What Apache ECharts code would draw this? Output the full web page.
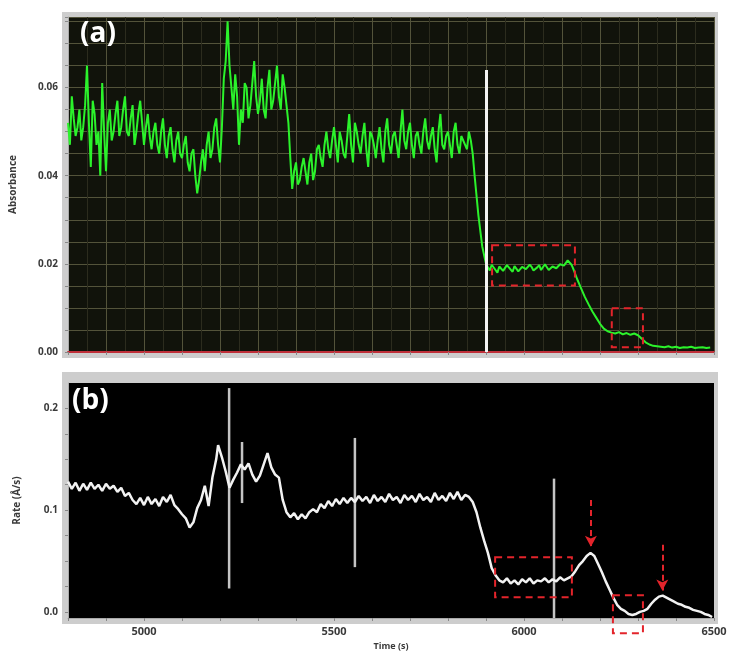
<!DOCTYPE html>
<html>
<head>
<meta charset="utf-8">
<script src="https://cdn.jsdelivr.net/npm/echarts@6/dist/echarts.min.js"></script>
<style>html,body{margin:0;padding:0;background:#fff}#c{width:730px;height:652px}</style>
</head>
<body>
<div id="c"></div>
<script>
// Panel (a): absorbance vs time [time (s), absorbance]
const absorbance = [
[4800,0.052],[4810,0.058],[4820,0.049],[4830,0.055],[4840,0.051],[4850,0.065],[4860,0.042],[4870,0.054],[4880,0.050],[4890,0.061],
[4900,0.041],[4910,0.055],[4920,0.050],[4930,0.057],[4940,0.051],[4950,0.058],[4960,0.049],[4970,0.056],[4980,0.050],[4990,0.057],
[5000,0.047],[5010,0.054],[5020,0.046],[5030,0.052],[5040,0.045],[5050,0.053],[5060,0.044],[5070,0.051],[5080,0.043],[5090,0.050],
[5100,0.044],[5110,0.049],[5120,0.041],[5130,0.046],[5140,0.036],[5150,0.043],[5160,0.041],[5170,0.050],[5180,0.046],[5190,0.053],
[5200,0.043],[5210,0.062],[5220,0.075],[5230,0.060],[5240,0.063],[5250,0.047],[5260,0.052],[5270,0.060],[5280,0.056],[5290,0.066],
[5300,0.054],[5310,0.062],[5320,0.053],[5330,0.064],[5340,0.057],[5350,0.065],[5360,0.055],[5370,0.060],[5380,0.052],[5390,0.037],
[5400,0.043],[5410,0.039],[5420,0.044],[5430,0.038],[5440,0.045],[5450,0.041],[5460,0.047],[5470,0.042],[5480,0.050],[5490,0.044],
[5500,0.051],[5510,0.043],[5520,0.048],[5530,0.044],[5540,0.054],[5550,0.043],[5560,0.050],[5570,0.045],[5580,0.052],[5590,0.042],
[5600,0.049],[5610,0.044],[5620,0.051],[5630,0.043],[5640,0.053],[5650,0.045],[5660,0.050],[5670,0.044],[5680,0.055],[5690,0.046],
[5700,0.052],[5710,0.044],[5720,0.050],[5730,0.045],[5740,0.053],[5750,0.046],[5760,0.051],[5770,0.043],[5780,0.054],[5790,0.046],
[5800,0.050],[5810,0.044],[5820,0.052],[5830,0.045],[5840,0.049],[5850,0.046],[5860,0.048],[5870,0.040],[5880,0.031],[5890,0.024],
[5900,0.020],[5910,0.0185],[5920,0.0195],[5930,0.018],[5940,0.019],[5950,0.0188],[5960,0.0195],[5970,0.0182],[5980,0.0192],[5990,0.0186],
[6000,0.0196],[6010,0.0184],[6020,0.0193],[6030,0.0187],[6040,0.0197],[6050,0.0185],[6060,0.0195],[6070,0.0189],[6080,0.0198],[6090,0.0187],
[6100,0.0203],[6110,0.0192],[6120,0.0205],[6130,0.0188],[6140,0.0165],[6150,0.0145],[6160,0.0125],[6170,0.0108],[6180,0.0092],[6190,0.0078],
[6200,0.0064],[6210,0.0053],[6220,0.0047],[6230,0.0044],[6240,0.0042],[6250,0.0045],[6260,0.0040],[6270,0.0043],[6280,0.0039],[6290,0.0042],
[6300,0.0038],[6310,0.0030],[6320,0.0022],[6330,0.0017],[6340,0.0014],[6350,0.0013],[6360,0.0012],[6370,0.0011],[6380,0.0013],[6390,0.0010],
[6400,0.0012],[6410,0.0009],[6420,0.0011],[6430,0.0010],[6440,0.0012],[6450,0.0009],[6460,0.0010],[6470,0.0011],[6480,0.0009],[6490,0.0010]
];
// Intermediate absorbance readings (between the 10 s samples above)
const absorbanceMid = [
[4805,0.047],[4815,0.053],[4825,0.051],[4835,0.048],[4845,0.056],[4855,0.052],[4865,0.057],[4875,0.047],[4885,0.040],[4895,0.050],
[4905,0.052],[4915,0.048],[4925,0.054],[4935,0.049],[4945,0.055],[4955,0.050],[4965,0.053],[4975,0.047],[4985,0.054],[4995,0.052],
[5005,0.051],[5015,0.049],[5025,0.050],[5035,0.047],[5045,0.050],[5055,0.047],[5065,0.049],[5075,0.046],[5085,0.048],[5095,0.045],
[5105,0.047],[5115,0.043],[5125,0.045],[5135,0.040],[5145,0.039],[5155,0.046],[5165,0.047],[5175,0.044],[5185,0.051],[5195,0.047],
[5205,0.051],[5215,0.066],[5225,0.065],[5235,0.055],[5245,0.058],[5255,0.055],[5265,0.061],[5275,0.053],[5285,0.061],[5295,0.058],
[5305,0.057],[5315,0.055],[5325,0.060],[5335,0.055],[5345,0.061],[5355,0.058],[5365,0.063],[5375,0.056],[5385,0.044],[5395,0.041],
[5405,0.038],[5415,0.042],[5425,0.041],[5435,0.043],[5445,0.039],[5455,0.046],[5465,0.044],[5475,0.047],[5485,0.046],[5495,0.048],
[5505,0.047],[5515,0.050],[5525,0.045],[5535,0.049],[5545,0.047],[5555,0.052],[5565,0.047],[5575,0.049],[5585,0.046],[5595,0.050],
[5605,0.047],[5615,0.048],[5625,0.046],[5635,0.050],[5645,0.047],[5655,0.049],[5665,0.047],[5675,0.050],[5685,0.048],[5695,0.050],
[5705,0.047],[5715,0.049],[5725,0.047],[5735,0.050],[5745,0.048],[5755,0.049],[5765,0.046],[5775,0.050],[5785,0.047],[5795,0.049],
[5805,0.047],[5815,0.050],[5825,0.047],[5835,0.049],[5845,0.047],[5855,0.050],[5865,0.045],
[5905,0.0192],[5915,0.0198],[5925,0.0186],[5935,0.0194],[5945,0.0184],[5955,0.0197],[5965,0.0187],[5975,0.0195],[5985,0.0183],[5995,0.0193],
[6005,0.0188],[6015,0.0198],[6025,0.0185],[6035,0.0192],[6045,0.0186],[6055,0.0199],[6065,0.0186],[6075,0.0194],[6085,0.0190],[6095,0.0199],
[6105,0.0196],[6115,0.0208],[6125,0.0198]
];

// Panel (b): rate vs time [time (s), rate (Å/s)]
const rate = [
[4800,0.128],[4810,0.121],[4820,0.127],[4830,0.119],[4840,0.126],[4850,0.120],[4860,0.127],[4870,0.121],[4880,0.125],[4890,0.119],
[4900,0.126],[4910,0.121],[4920,0.124],[4930,0.118],[4940,0.122],[4950,0.114],[4960,0.117],[4970,0.110],[4980,0.106],[4990,0.112],
[5000,0.105],[5010,0.113],[5020,0.106],[5030,0.111],[5040,0.104],[5050,0.113],[5060,0.108],[5070,0.115],[5080,0.105],[5090,0.101],
[5100,0.096],[5110,0.092],[5120,0.083],[5130,0.088],[5140,0.102],[5150,0.110],[5160,0.124],[5170,0.104],[5180,0.132],[5190,0.150],
[5195,0.164],[5205,0.152],[5215,0.138],[5225,0.122],[5235,0.130],[5245,0.137],[5255,0.145],[5265,0.140],[5275,0.146],[5285,0.135],
[5295,0.128],[5305,0.134],[5315,0.145],[5325,0.156],[5335,0.142],[5345,0.135],[5355,0.132],[5365,0.110],[5375,0.098],[5385,0.093],
[5395,0.097],[5405,0.091],[5415,0.096],[5425,0.092],[5435,0.098],[5445,0.101],[5455,0.098],[5465,0.106],[5475,0.102],[5485,0.109],
[5495,0.104],[5505,0.111],[5515,0.106],[5525,0.112],[5535,0.107],[5545,0.112],[5555,0.108],[5565,0.114],[5575,0.109],[5585,0.113],
[5595,0.107],[5605,0.115],[5615,0.109],[5625,0.113],[5635,0.108],[5645,0.116],[5655,0.110],[5665,0.113],[5675,0.107],[5685,0.115],
[5695,0.110],[5705,0.114],[5715,0.108],[5725,0.116],[5735,0.110],[5745,0.113],[5755,0.108],[5765,0.117],[5775,0.110],[5785,0.114],
[5795,0.109],[5805,0.117],[5815,0.111],[5825,0.118],[5835,0.110],[5845,0.115],[5855,0.113],[5865,0.108],[5875,0.098],[5885,0.083],
[5895,0.070],[5905,0.058],[5915,0.043],[5925,0.036],[5935,0.031],[5945,0.029],[5955,0.033],[5965,0.028],[5975,0.031],[5985,0.027],
[5995,0.032],[6005,0.029],[6015,0.033],[6025,0.028],[6035,0.031],[6045,0.030],[6055,0.033],[6065,0.029],[6075,0.032],[6085,0.030],
[6095,0.034],[6105,0.031],[6115,0.033],[6125,0.035],[6135,0.040],[6145,0.046],[6155,0.050],[6165,0.055],[6175,0.058],[6185,0.055],
[6195,0.047],[6205,0.039],[6215,0.030],[6225,0.022],[6235,0.014],[6245,0.007],[6255,0.003],[6265,0.001],[6275,-0.002],[6285,-0.003],
[6295,-0.002],[6305,0.000],[6315,0.001],[6325,0.003],[6335,0.008],[6345,0.012],[6355,0.015],[6365,0.016],[6375,0.014],[6385,0.012],
[6395,0.010],[6405,0.008],[6415,0.007],[6425,0.005],[6435,0.004],[6445,0.002],[6455,0.001],[6465,0.000],[6475,-0.002],[6485,-0.003],[6495,-0.005]
];

// Spikes in the rate trace: time, low, high
const spikeTime = [5224, 5258, 5555, 6079];
const spikeLow  = [0.023, 0.107, 0.044, -0.006];
const spikeHigh = [0.220, 0.167, 0.171, 0.131];

// White marker line in panel (a)
const markerTime = 5900;
const markerTop = 0.064;

// Red dashed boxes: [t1, v1, t2, v2]
const boxesA = [[5916, 0.0242, 6134, 0.0151], [6231, 0.0099, 6313, 0.0011]];
const boxesB = [[5924, 0.0538, 6126, 0.0145], [6234, 0.0163, 6313, -0.021]];

// Red dashed arrows in panel (b): [t, from, to]
const arrowsB = [[6176, 0.110, 0.064], [6364, 0.066, 0.021]];

// Axis ticks / labels
const xMin = 4800, xMax = 6500;
const xLabels = [5000, 5500, 6000, 6500];
const absLabels = [0, 0.02, 0.04, 0.06];
const rateLabels = [0, 0.1, 0.2];
const rateTicks = [0, 0.025, 0.05, 0.075, 0.1, 0.125, 0.15, 0.175, 0.2];

const absData = absorbance.concat(absorbanceMid).sort((a, b) => a[0] - b[0]);

const chart = echarts.init(document.getElementById('c'), null, {renderer: 'canvas'});
const labelStyle = {color: '#3a3a3a', fontSize: 10, fontWeight: 'bold', fontFamily: 'Open Sans'};

function boxRenderer(params, api) {
  const p1 = api.coord([api.value(0), api.value(1)]);
  const p2 = api.coord([api.value(2), api.value(3)]);
  return {
    type: 'rect',
    shape: {x: p1[0], y: p1[1], width: p2[0] - p1[0], height: p2[1] - p1[1]},
    style: {fill: 'none', stroke: '#e3242b', lineWidth: 2, lineDash: [7, 5]}
  };
}
function spikeRenderer(params, api) {
  const p1 = api.coord([api.value(0), api.value(1)]);
  const p2 = api.coord([api.value(0), api.value(2)]);
  return {
    type: 'line',
    shape: {x1: p1[0], y1: p1[1], x2: p2[0], y2: p2[1]},
    style: {stroke: '#c4c4c4', lineWidth: 2.5}
  };
}

const option = {
  animation: false,
  backgroundColor: '#ffffff',
  graphic: [
    {type: 'rect', z: -10, shape: {x: 62, y: 12, width: 656, height: 346}, style: {fill: '#cdcdcd'}},
    {type: 'rect', z: -10, shape: {x: 62, y: 372, width: 656, height: 252}, style: {fill: '#cdcdcd'}},
    {type: 'text', z: 100, left: 80, top: 20, style: {text: '(a)', fill: '#ffffff', font: 'bold 28px "Open Sans"'}},
    {type: 'text', z: 100, left: 72, top: 387, style: {text: '(b)', fill: '#ffffff', font: 'bold 28px "Open Sans"'}}
  ],
  grid: [
    {left: 68, right: 16, top: 17, height: 335, show: true, backgroundColor: '#11130b', borderWidth: 0},
    {left: 68, right: 16, top: 383, height: 235, show: true, backgroundColor: '#000000', borderWidth: 0}
  ],
  xAxis: [
    {
      type: 'value', gridIndex: 0, min: xMin, max: xMax, interval: 100,
      axisLine: {show: true, onZero: false, lineStyle: {color: '#c0303a', width: 2}},
      axisTick: {show: true, length: 3, lineStyle: {color: '#888'}},
      axisLabel: {show: false},
      splitLine: {show: true, lineStyle: {color: '#53533a', width: 1}},
      minorTick: {show: false, splitNumber: 2},
      minorSplitLine: {show: true, lineStyle: {color: '#2c2c1e', width: 1}}
    },
    {
      type: 'value', gridIndex: 1, min: xMin, max: xMax, interval: 100,
      name: 'Time (s)', nameLocation: 'middle', nameGap: 24,
      nameTextStyle: {color: '#3a3a3a', fontSize: 9, fontWeight: 'bold', fontFamily: 'Open Sans'},
      axisLine: {show: true, onZero: false, lineStyle: {color: '#aaaaaa', width: 1}},
      axisTick: {show: true, length: 3, lineStyle: {color: '#888'}},
      axisLabel: {margin: 8, fontSize: 11, interval: 0, color: '#3a3a3a', fontWeight: 'bold', fontFamily: 'Open Sans',
        formatter: v => xLabels.indexOf(v) >= 0 ? String(v) : ''},
      splitLine: {show: false}
    }
  ],
  yAxis: [
    {
      type: 'value', gridIndex: 0, min: 0, max: 0.076, interval: 0.005,
      name: 'Absorbance', nameLocation: 'middle', nameGap: 50, nameRotate: 90,
      nameTextStyle: {color: '#3a3a3a', fontSize: 10, fontWeight: 'bold', fontFamily: 'Open Sans'},
      axisLine: {show: true, lineStyle: {color: '#aaaaaa'}},
      axisTick: {show: true, length: 3, lineStyle: {color: '#888'}},
      axisLabel: Object.assign({margin: 10, interval: 0,
        formatter: v => absLabels.some(a => Math.abs(a - v) < 1e-9) ? v.toFixed(2) : ''}, labelStyle),
      splitLine: {show: true, lineStyle: {color: '#53533a', width: 1}}
    },
    {
      type: 'value', gridIndex: 1, min: -0.006, max: 0.225,
      name: 'Rate (Å/s)', nameLocation: 'middle', nameGap: 46, nameRotate: 90,
      nameTextStyle: {color: '#3a3a3a', fontSize: 10, fontWeight: 'bold', fontFamily: 'Open Sans'},
      axisLine: {show: true, lineStyle: {color: '#aaaaaa'}},
      axisTick: {show: true, length: 3, customValues: rateTicks, lineStyle: {color: '#888'}},
      axisLabel: Object.assign({margin: 10, customValues: rateLabels,
        formatter: v => v.toFixed(1)}, labelStyle),
      splitLine: {show: false}
    }
  ],
  series: [
    {
      type: 'line', xAxisIndex: 0, yAxisIndex: 0, data: absData, showSymbol: false,
      lineStyle: {color: '#2bf22b', width: 2}, z: 3,
      markLine: {
        silent: true, symbol: ['none', 'none'], label: {show: false},
        lineStyle: {color: '#f4f4f4', width: 3, type: 'solid'},
        data: [[{coord: [markerTime, 0]}, {coord: [markerTime, markerTop]}]]
      }
    },
    {
      type: 'custom', xAxisIndex: 0, yAxisIndex: 0, data: boxesA, renderItem: boxRenderer, z: 5, clip: false
    },
    {
      type: 'custom', xAxisIndex: 1, yAxisIndex: 1,
      data: spikeTime.map((t, i) => [t, spikeLow[i], spikeHigh[i]]), renderItem: spikeRenderer, z: 2
    },
    {
      type: 'line', xAxisIndex: 1, yAxisIndex: 1, data: rate, showSymbol: false,
      lineStyle: {color: '#f2f2f2', width: 2.5}, z: 3,
      markLine: {
        silent: true, symbol: ['none', 'arrow'], symbolSize: [9, 11], label: {show: false},
        lineStyle: {color: '#e3242b', width: 2, type: [6, 4]},
        data: arrowsB.map(a => [{coord: [a[0], a[1]]}, {coord: [a[0], a[2]]}])
      }
    },
    {
      type: 'custom', xAxisIndex: 1, yAxisIndex: 1, data: boxesB, renderItem: boxRenderer, z: 5, clip: false
    }
  ]
};
chart.setOption(option);
</script>
</body>
</html>
